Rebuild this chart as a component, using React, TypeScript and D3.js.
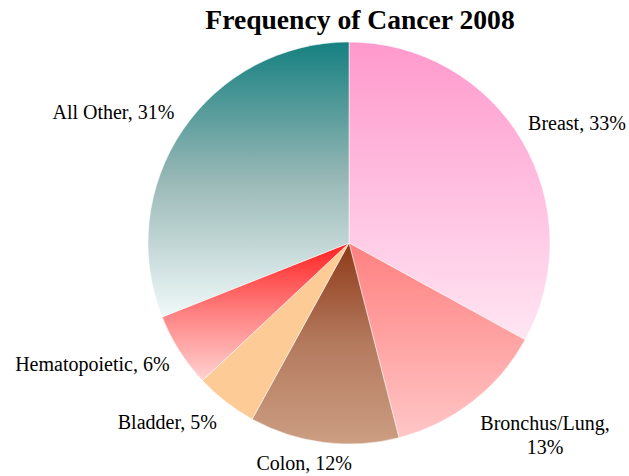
import React from "react";
import * as d3 from "d3";

const categories = ["Breast", "Bronchus/Lung", "Colon", "Bladder", "Hematopoietic", "All Other"];
const values = [33, 13, 12, 5, 6, 31];
const labelLines = [["Breast, 33%"], ["Bronchus/Lung,", "13%"], ["Colon, 12%"], ["Bladder, 5%"], ["Hematopoietic, 6%"], ["All Other, 31%"]];
const gradientTop = ["#ff99cc", "#ff8080", "#8e3a18", "#fccb96", "#ff2020", "#158080"];
const gradientMid = ["#ffbfe0", "#ffa3a3", "#b47a5e", "#fccb96", "#ff8080", "#98b8b6"];
const gradientBottom = ["#ffe6f3", "#ffc6c6", "#cc9e82", "#fccb96", "#ffd2d2", "#f0f9f9"];

const W = 629;
const H = 476;
const cx = 349;
const cy = 243;
const R = 201;

// layout-only tweaks for label placement
const labelAnchor = ["start", "middle", "middle", "end", "end", "end"];
const labelNudge: [number, number][] = [[-12, -7], [60, 12], [-17, 0], [4, 4], [8, 2], [9, -6]];

export default function App() {
  const pie = d3.pie<number>().sort(null).value((d) => d);
  const arcs = pie(values);
  const arcGen = d3.arc<d3.PieArcDatum<number>>().innerRadius(0).outerRadius(R);
  const labelArc = d3.arc<d3.PieArcDatum<number>>().innerRadius(222).outerRadius(222);

  return (
    <svg width={W} height={H} style={{ position: "absolute", left: 0, top: 0, background: "#fff" }}
      fontFamily="'Liberation Serif', 'Times New Roman', serif">
      <defs>
        {categories.map((c, i) => (
          <linearGradient key={c} id={`g${i}`} x1="0" y1="0" x2="0" y2="1">
            <stop offset="0" stopColor={gradientTop[i]} />
            <stop offset="0.5" stopColor={gradientMid[i]} />
            <stop offset="1" stopColor={gradientBottom[i]} />
          </linearGradient>
        ))}
      </defs>
      <text x={360} y={29} textAnchor="middle" fontSize={27.6} fontWeight="bold" fill="#000">
        Frequency of Cancer 2008
      </text>
      <g transform={`translate(${cx},${cy})`}>
        {arcs.map((a, i) => (
          <path key={categories[i]} d={arcGen(a) || ""} fill={`url(#g${i})`} stroke="#fff" strokeWidth={0.5} />
        ))}
        {arcs.map((a, i) => {
          const [lx, ly] = labelArc.centroid(a);
          const x = lx + labelNudge[i][0];
          const y = ly + labelNudge[i][1];
          const lines = labelLines[i];
          return (
            <text key={"l" + i} x={x} y={y} textAnchor={labelAnchor[i]} fontSize={20} fill="#000">
              {lines.map((t, j) => (
                <tspan key={j} x={x} dy={j === 0 ? (lines.length > 1 ? "0" : "0.35em") : "1.2em"}>{t}</tspan>
              ))}
            </text>
          );
        })}
      </g>
    </svg>
  );
}
